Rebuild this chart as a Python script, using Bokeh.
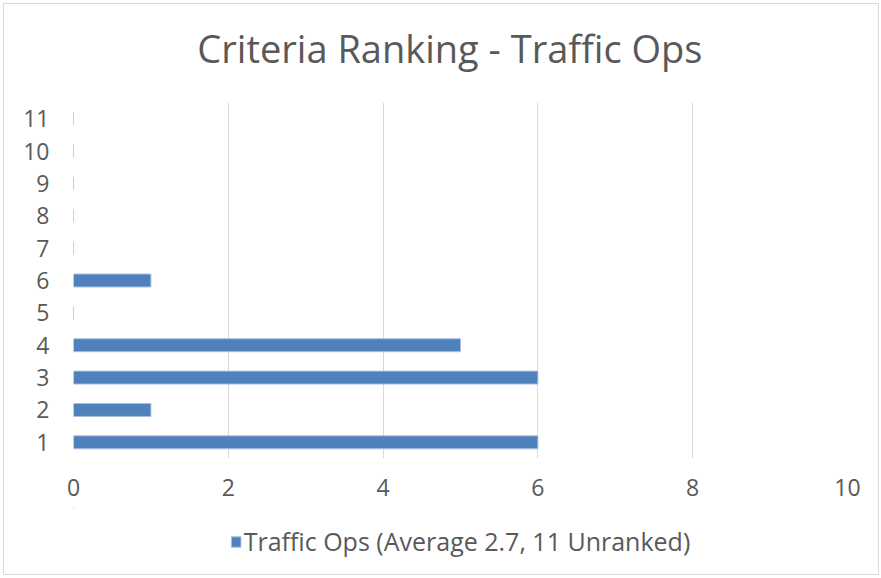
from bokeh.plotting import figure
from bokeh.models import ColumnDataSource, FixedTicker, Legend, LegendItem, Range1d, Label
from bokeh.layouts import column
from bokeh.embed import file_html
from bokeh.resources import INLINE

ranks = [1, 2, 3, 4, 5, 6, 7, 8, 9, 10, 11]
counts = [6, 1, 6, 5, 0, 1, 0, 0, 0, 0, 0]
x_ticks = [0, 2, 4, 6, 8, 10]
title_text = "Criteria Ranking - Traffic Ops"
series_label = "Traffic Ops (Average 2.7, 11 Unranked)"

FONT = "Open Sans"
TXT = "#595959"
BAR_FILL = "#4F81BD"
BAR_LINE = "#A9C1DF"
W = 874


def strip(h):
    f = figure(width=W, height=h, output_backend="svg", toolbar_location=None,
               x_range=Range1d(0, W), y_range=Range1d(h, 0),
               x_axis_type=None, y_axis_type=None, min_border=0)
    f.outline_line_color = None
    f.xgrid.grid_line_color = None
    f.ygrid.grid_line_color = None
    return f


# title strip
ts = strip(90)
ts.add_layout(Label(x=425, y=43, text=title_text, text_align="center",
                    text_baseline="alphabetic", text_font=FONT, text_font_size="38px",
                    text_color=TXT))

# main chart
src = ColumnDataSource(dict(rank=ranks, count=counts))

p = figure(width=W, height=414, output_backend="svg", toolbar_location=None,
           x_range=Range1d(0, 10), y_range=Range1d(0.5, 11.5),
           min_border_left=69, min_border_right=31, min_border_top=8, min_border_bottom=50)
p.outline_line_color = None

r = p.hbar(y="rank", right="count", left=0, height=0.4, source=src,
           fill_color=BAR_FILL, line_color=BAR_LINE, line_width=1)

p.xaxis.ticker = FixedTicker(ticks=x_ticks)
p.yaxis.ticker = FixedTicker(ticks=ranks)
for ax in (p.xaxis[0], p.yaxis[0]):
    ax.axis_line_color = None
    ax.major_tick_line_color = None
    ax.minor_tick_line_color = None
    ax.major_tick_in = 0
    ax.major_tick_out = 0
    ax.major_label_text_font = FONT
    ax.major_label_text_font_size = "23px"
    ax.major_label_text_color = TXT
p.xaxis.major_label_standoff = 20
p.yaxis.major_label_standoff = 24

p.xgrid.grid_line_color = "#D9D9D9"
p.xgrid.grid_line_width = 1
p.ygrid.grid_line_color = None

# legend strip below the chart
lg = strip(66)
lg.min_border_right = 20
lr = lg.hbar(y=[-100], right=[1], left=0, height=1,
             fill_color=BAR_FILL, line_color=BAR_LINE, line_width=1)

legend = Legend(items=[LegendItem(label=series_label, renderers=[lr])],
                orientation="horizontal", location="center",
                label_text_font=FONT, label_text_font_size="25px", label_text_color=TXT,
                glyph_width=12, glyph_height=13, label_standoff=2,
                border_line_color=None, background_fill_alpha=0,
                margin=0, padding=0)
lg.add_layout(legend, "center")

layout = column(ts, p, lg, spacing=0)
layout.styles = {"border": "1px solid #d9d9d9", "margin-left": "3px", "margin-top": "3px"}

open("out.html", "w").write(file_html(layout, INLINE))
